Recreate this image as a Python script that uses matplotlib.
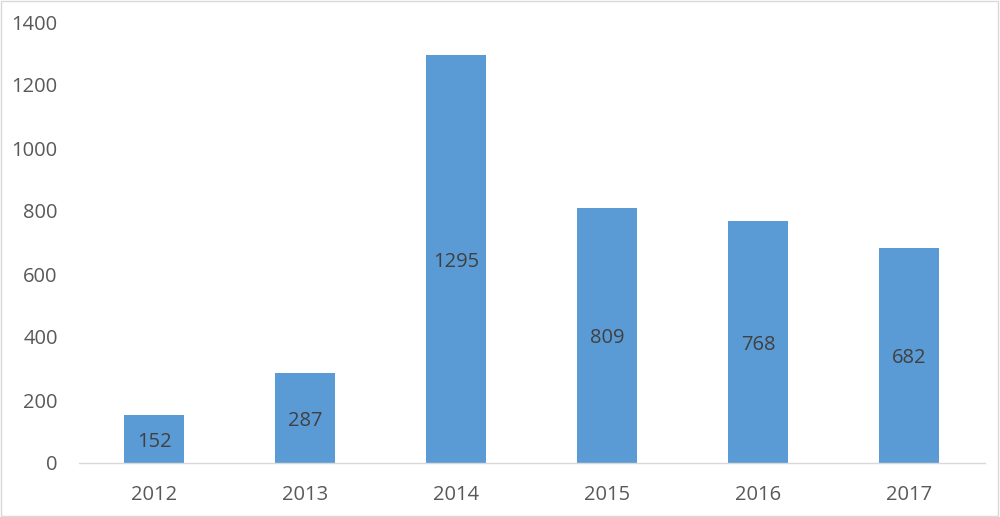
import matplotlib
matplotlib.use("Agg")
import matplotlib.pyplot as plt
from matplotlib.patches import Rectangle

years = ["2012", "2013", "2014", "2015", "2016", "2017"]
values = [152, 287, 1295, 809, 768, 682]
y_ticks = [0, 200, 400, 600, 800, 1000, 1200, 1400]

plt.rcParams['font.family'] = ['Open Sans', 'DejaVu Sans']
text_color = "#595959"

fig = plt.figure(figsize=(10, 5.17), dpi=100)
ax = fig.add_axes([0.0785, (517 - 463) / 517, 0.906, (463 - 22) / 517])

x = list(range(len(years)))
bars = ax.bar(x, values, width=0.4, color="#5B9BD5", zorder=2)
for xi, v in zip(x, values):
    ax.annotate(str(v), (xi, v / 2), xytext=(0, -2), textcoords="offset points",
                ha="center", va="center", fontsize=14.5, color="#404040")

ax.set_xlim(-0.5, len(years) - 0.5)
ax.set_ylim(0, 1400)
ax.set_yticks(y_ticks)
ax.set_yticklabels([str(t) for t in y_ticks])
ax.set_xticks(x)
ax.set_xticklabels(years)
ax.tick_params(axis="both", length=0, labelsize=14.5, labelcolor=text_color)
ax.tick_params(axis="y", pad=15)
ax.tick_params(axis="x", pad=16)
for s in ["top", "right", "left"]:
    ax.spines[s].set_visible(False)
ax.spines["bottom"].set_color("#D9D9D9")
ax.spines["bottom"].set_linewidth(1.0)

fig.patches.append(Rectangle((0.001, 0.002), 0.997, 0.996, transform=fig.transFigure,
                             fill=False, edgecolor="#D9D9D9", linewidth=1.0))

fig.savefig("out.png", dpi=100)
